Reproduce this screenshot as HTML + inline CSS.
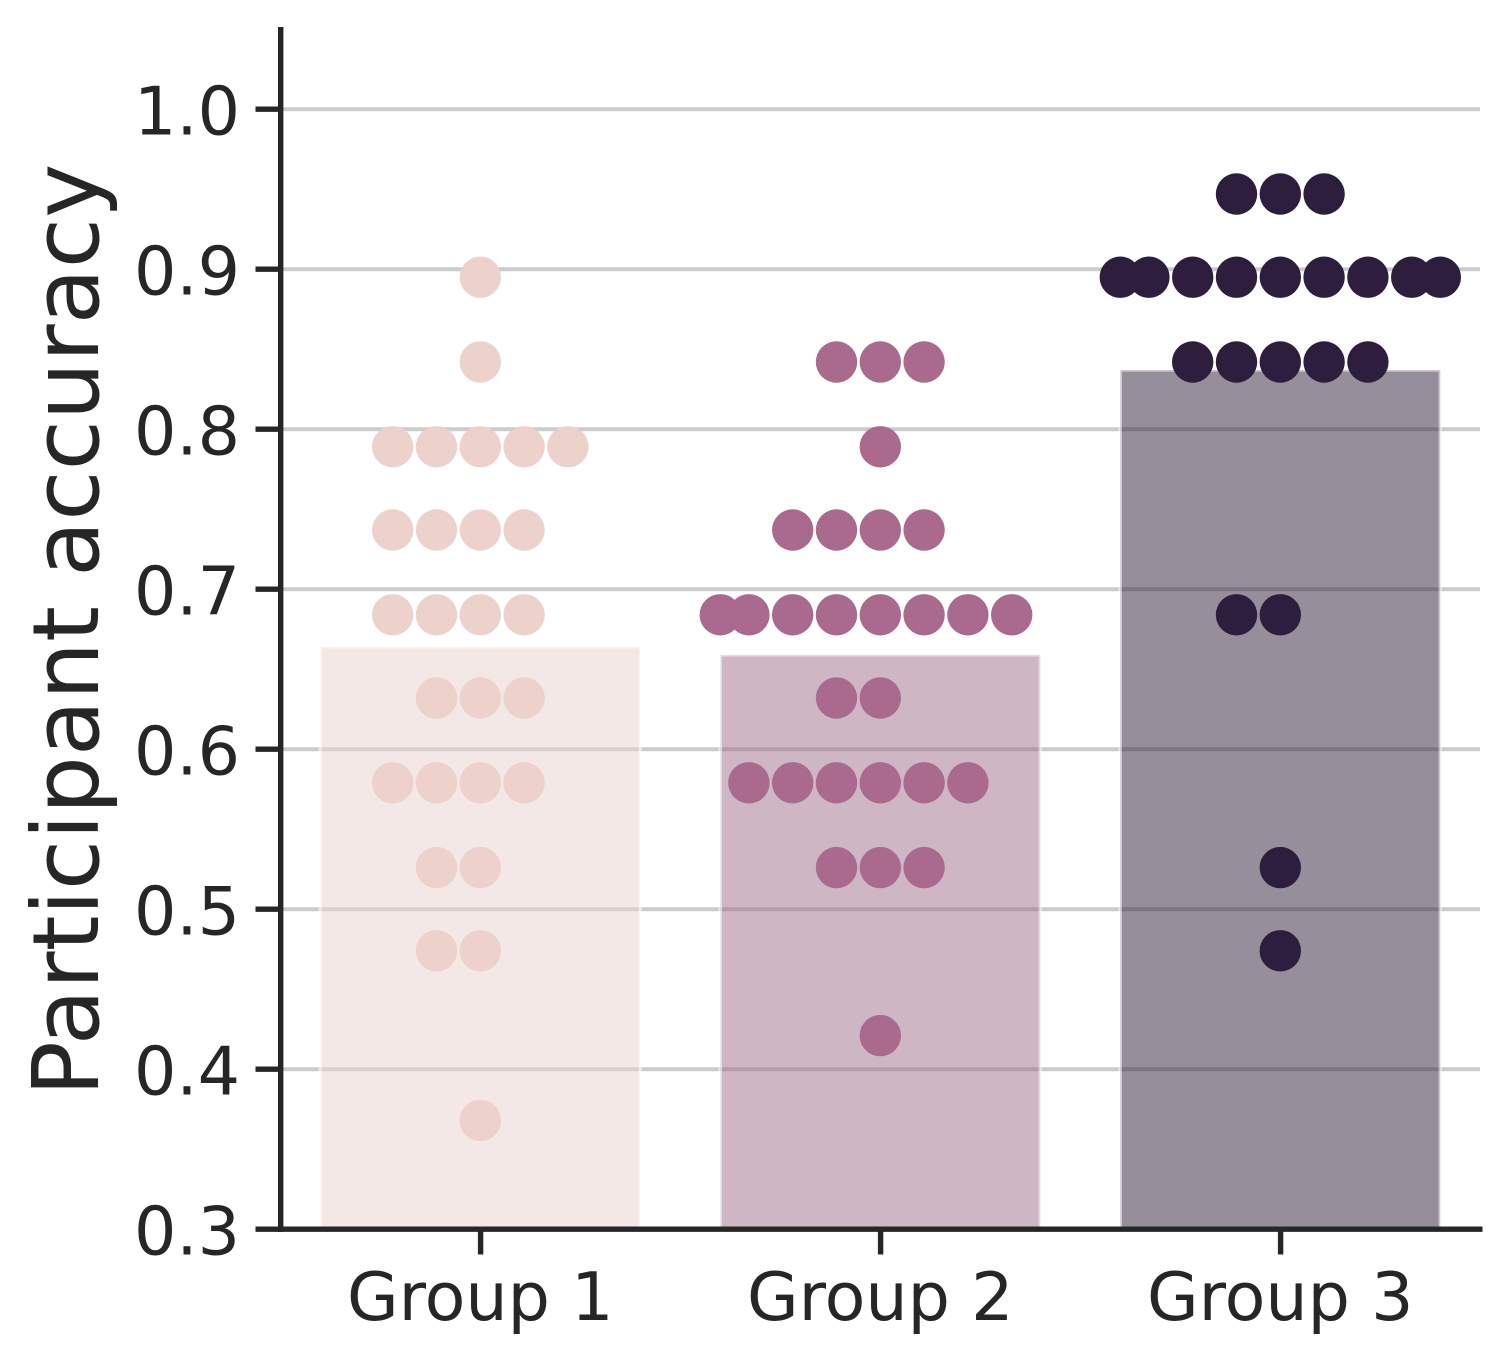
<!DOCTYPE html>
<html>
<head>
<meta charset="utf-8">
<title>Participant accuracy</title>
<style>
html,body{margin:0;padding:0;background:#fff;}
svg{display:block;}
text{font-family:"DejaVu Sans","Liberation Sans",sans-serif;fill:#262626;}
</style>
</head>
<body>
<svg id="chart" width="1510" height="1363" viewBox="0 0 1510 1363" xmlns="http://www.w3.org/2000/svg"></svg>
<script>
const categories = ["Group 1", "Group 2", "Group 3"];
const barMeans = [0.664, 0.659, 0.837];
const yTicks = [0.3, 0.4, 0.5, 0.6, 0.7, 0.8, 0.9, 1.0];
const yTickLabels = ["0.3", "0.4", "0.5", "0.6", "0.7", "0.8", "0.9", "1.0"];
const group1Scores = [
  0.368,
  0.474, 0.474,
  0.526, 0.526,
  0.579, 0.579, 0.579, 0.579,
  0.632, 0.632, 0.632,
  0.684, 0.684, 0.684, 0.684,
  0.737, 0.737, 0.737, 0.737,
  0.789, 0.789, 0.789, 0.789, 0.789,
  0.842,
  0.895
];
const group2Scores = [
  0.421,
  0.526, 0.526, 0.526,
  0.579, 0.579, 0.579, 0.579, 0.579, 0.579,
  0.632, 0.632,
  0.684, 0.684, 0.684, 0.684, 0.684, 0.684, 0.684, 0.684,
  0.737, 0.737, 0.737, 0.737,
  0.789,
  0.842, 0.842, 0.842
];
const group3Scores = [
  0.474,
  0.526,
  0.684, 0.684,
  0.842, 0.842, 0.842, 0.842, 0.842,
  0.895, 0.895, 0.895, 0.895, 0.895, 0.895, 0.895, 0.895, 0.895,
  0.947, 0.947, 0.947
];
const groupScores = [group1Scores, group2Scores, group3Scores];
const pointColors = ["#edd1cb", "#a96a8d", "#2d1e3e"];
const barColors = ["#e7d1cd", "#9e6e8b", "#2d1f38"];

const NS = "http://www.w3.org/2000/svg";
const svg = document.getElementById("chart");
const yScale = v => 1229.2 - (v - 0.3) * 1600;
const xScale = i => 480.3 + i * 400;
const SPINE_X = 280.7;
const GRID_END_X = 1480;
const AXIS_END_X = 1482.5;
const BAR_W = 320;
const SLOT = 43.8;
const R = 20.7;
const AXIS_W = 5.4;

function make(tag, attrs, parent, text) {
  const el = document.createElementNS(NS, tag);
  for (const k in attrs) el.setAttribute(k, attrs[k]);
  if (text !== undefined) el.textContent = text;
  (parent || svg).appendChild(el);
  return el;
}

// grid lines
yTicks.forEach((t, i) => {
  if (t === 0.3) return;
  const el = make("line", {x1: SPINE_X, x2: GRID_END_X, y1: yScale(t), y2: yScale(t), stroke: "#cccccc", "stroke-width": 4});
  
  
});

// bars
categories.forEach((c, i) => {
  const top = yScale(barMeans[i]);
  const el = make("rect", {
    x: xScale(i) - BAR_W / 2, y: top, width: BAR_W, height: yScale(0.3) - top,
    fill: barColors[i], "fill-opacity": 0.5, stroke: "#ffffff", "stroke-opacity": 0.5, "stroke-width": 3.4
  });
  
  
});

// swarm points
groupScores.forEach((scores, g) => {
  const levels = {};
  scores.forEach(s => {
    const key = s.toFixed(3);
    levels[key] = (levels[key] || 0) + 1;
  });
  Object.keys(levels).forEach(key => {
    const n = levels[key];
    const first = -Math.floor(n / 2);
    for (let k = 0; k < n; k++) {
      const off = Math.max(-160, Math.min(160, (first + k) * SLOT));
      const el = make("circle", {cx: xScale(g) + off, cy: yScale(parseFloat(key)), r: R, fill: pointColors[g]});
      
      
    }
  });
});

// y ticks and labels
yTicks.forEach((t, i) => {
  const tick = make("line", {x1: 255.5, x2: SPINE_X, y1: yScale(t), y2: yScale(t), stroke: "#262626", "stroke-width": AXIS_W});
  
  
  const label = make("text", {x: 240, y: yScale(t) + 25.5, "text-anchor": "end", "font-size": 66.67}, svg, yTickLabels[i]);
  
  
});

// x ticks and labels
categories.forEach((c, i) => {
  const tick = make("line", {x1: xScale(i) + 0.3, x2: xScale(i) + 0.3, y1: yScale(0.3), y2: 1254.5, stroke: "#262626", "stroke-width": AXIS_W});
  
  
  const label = make("text", {x: xScale(i), y: 1320, "text-anchor": "middle", "font-size": 66.67}, svg, c);
  
  
});

// spines
const leftSpine = make("line", {x1: SPINE_X, x2: SPINE_X, y1: 27, y2: 1231.9, stroke: "#262626", "stroke-width": AXIS_W});


const bottomSpine = make("line", {x1: 278, x2: AXIS_END_X, y1: yScale(0.3), y2: yScale(0.3), stroke: "#262626", "stroke-width": AXIS_W});



// y axis title
const yTitle = make("text", {x: 0, y: 0, "text-anchor": "middle", "font-size": 91.6, transform: "translate(98 630) rotate(-90)"}, svg, "Participant accuracy");


</script>
</body>
</html>
